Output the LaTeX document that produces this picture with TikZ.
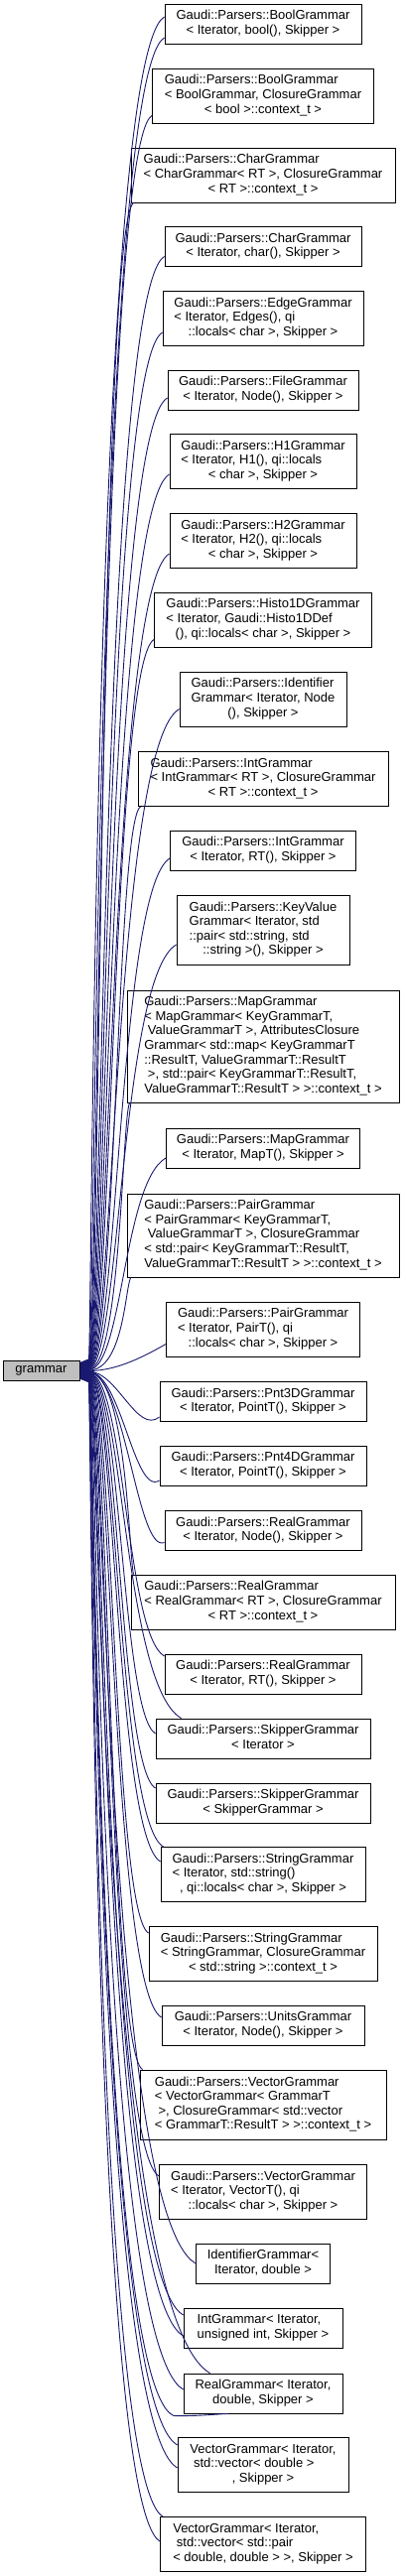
\documentclass[tikz,border=0pt]{standalone}
\usepackage{fontspec}
\setmainfont{Liberation Sans}
\usetikzlibrary{arrows.meta,calc}
\definecolor{edgeblue}{HTML}{191970}
\definecolor{basegray}{HTML}{BFBFBF}
\newcommand{\lbl}[2]{\begin{tabular}{@{}l@{}}#1\\\multicolumn{1}{@{}c@{}}{#2}\end{tabular}}
\begin{document}
\begin{tikzpicture}[x=1pt,y=-1pt,
  box/.style={draw=black, line width=0.9pt, fill=white, inner sep=0pt, font=\fontsize{13}{14.6}\selectfont, align=center},
  inh/.style={draw=edgeblue, line width=0.9pt, {Triangle[open,length=9pt,width=7pt]}-}]
\useasboundingbox (0,0) rectangle (408,2596);

\node[box, fill=basegray, minimum width=77pt, minimum height=20pt] (g) at (41.5,1381) {grammar};

\node[box, minimum width=198pt, minimum height=40pt] (n1) at (265,24) {\lbl{Gaudi::Parsers::BoolGrammar}{< Iterator, bool(), Skipper >}};
\node[box, minimum width=223pt, minimum height=55pt] (n2) at (265,96.5) {\lbl{Gaudi::Parsers::BoolGrammar\\< BoolGrammar, ClosureGrammar}{< bool >::context\_t >}};
\node[box, minimum width=266pt, minimum height=55pt] (n3) at (265,176.5) {\lbl{Gaudi::Parsers::CharGrammar\\< CharGrammar< RT >, ClosureGrammar}{< RT >::context\_t >}};
\node[box, minimum width=198pt, minimum height=40pt] (n4) at (265,248.5) {\lbl{Gaudi::Parsers::CharGrammar}{< Iterator, char(), Skipper >}};
\node[box, minimum width=202pt, minimum height=55pt] (n5) at (265,321) {\lbl{Gaudi::Parsers::EdgeGrammar\\< Iterator, Edges(), qi}{::locals< char >, Skipper >}};
\node[box, minimum width=192pt, minimum height=40pt] (n6) at (265,393) {\lbl{Gaudi::Parsers::FileGrammar}{< Iterator, Node(), Skipper >}};
\node[box, minimum width=188pt, minimum height=55pt] (n7) at (265,465) {\lbl{Gaudi::Parsers::H1Grammar\\< Iterator, H1(), qi::locals}{< char >, Skipper >}};
\node[box, minimum width=188pt, minimum height=55pt] (n8) at (265,545) {\lbl{Gaudi::Parsers::H2Grammar\\< Iterator, H2(), qi::locals}{< char >, Skipper >}};
\node[box, minimum width=219pt, minimum height=55pt] (n9) at (265,624.5) {\lbl{Gaudi::Parsers::Histo1DGrammar\\< Iterator, Gaudi::Histo1DDef}{(), qi::locals< char >, Skipper >}};
\node[box, minimum width=168pt, minimum height=55pt] (n10) at (265,704.5) {\lbl{Gaudi::Parsers::Identifier\\Grammar< Iterator, Node}{(), Skipper >}};
\node[box, minimum width=252pt, minimum height=55pt] (n11) at (265,785) {\lbl{Gaudi::Parsers::IntGrammar\\< IntGrammar< RT >, ClosureGrammar}{< RT >::context\_t >}};
\node[box, minimum width=187pt, minimum height=40pt] (n12) at (265,857) {\lbl{Gaudi::Parsers::IntGrammar}{< Iterator, RT(), Skipper >}};
\node[box, minimum width=174pt, minimum height=70pt] (n13) at (265,937) {\lbl{Gaudi::Parsers::KeyValue\\Grammar< Iterator, std\\::pair< std::string, std}{::string >(), Skipper >}};
\node[box, minimum width=274pt, minimum height=113pt] (n14) at (265,1054.5) {\lbl{Gaudi::Parsers::MapGrammar\\< MapGrammar< KeyGrammarT,\\\ ValueGrammarT >, AttributesClosure\\Grammar< std::map< KeyGrammarT\\::ResultT, ValueGrammarT::ResultT\\\ >, std::pair< KeyGrammarT::ResultT,}{ValueGrammarT::ResultT > >::context\_t >}};
\node[box, minimum width=195pt, minimum height=40pt] (n15) at (265,1157) {\lbl{Gaudi::Parsers::MapGrammar}{< Iterator, MapT(), Skipper >}};
\node[box, minimum width=274pt, minimum height=84pt] (n16) at (265,1245) {\lbl{Gaudi::Parsers::PairGrammar\\< PairGrammar< KeyGrammarT,\\\ ValueGrammarT >, ClosureGrammar\\< std::pair< KeyGrammarT::ResultT,}{ValueGrammarT::ResultT > >::context\_t >}};
\node[box, minimum width=195pt, minimum height=55pt] (n17) at (265,1339.5) {\lbl{Gaudi::Parsers::PairGrammar\\< Iterator, PairT(), qi}{::locals< char >, Skipper >}};
\node[box, minimum width=208pt, minimum height=40pt] (n18) at (265,1412.5) {\lbl{Gaudi::Parsers::Pnt3DGrammar}{< Iterator, PointT(), Skipper >}};
\node[box, minimum width=208pt, minimum height=40pt] (n19) at (265,1477) {\lbl{Gaudi::Parsers::Pnt4DGrammar}{< Iterator, PointT(), Skipper >}};
\node[box, minimum width=198pt, minimum height=40pt] (n20) at (265,1542.5) {\lbl{Gaudi::Parsers::RealGrammar}{< Iterator, Node(), Skipper >}};
\node[box, minimum width=266pt, minimum height=55pt] (n21) at (265,1614.5) {\lbl{Gaudi::Parsers::RealGrammar\\< RealGrammar< RT >, ClosureGrammar}{< RT >::context\_t >}};
\node[box, minimum width=198pt, minimum height=40pt] (n22) at (265,1687) {\lbl{Gaudi::Parsers::RealGrammar}{< Iterator, RT(), Skipper >}};
\node[box, minimum width=216pt, minimum height=40pt] (n23) at (265,1752) {\lbl{Gaudi::Parsers::SkipperGrammar}{< Iterator >}};
\node[box, minimum width=216pt, minimum height=40pt] (n24) at (265,1817) {\lbl{Gaudi::Parsers::SkipperGrammar}{< SkipperGrammar >}};
\node[box, minimum width=206pt, minimum height=55pt] (n25) at (265,1889) {\lbl{Gaudi::Parsers::StringGrammar\\< Iterator, std::string()}{, qi::locals< char >, Skipper >}};
\node[box, minimum width=230pt, minimum height=55pt] (n26) at (265,1969) {\lbl{Gaudi::Parsers::StringGrammar\\< StringGrammar, ClosureGrammar}{< std::string >::context\_t >}};
\node[box, minimum width=204pt, minimum height=40pt] (n27) at (265,2041) {\lbl{Gaudi::Parsers::UnitsGrammar}{< Iterator, Node(), Skipper >}};
\node[box, minimum width=248pt, minimum height=70pt] (n28) at (265,2121) {\lbl{Gaudi::Parsers::VectorGrammar\\< VectorGrammar< GrammarT\\\ >, ClosureGrammar< std::vector}{< GrammarT::ResultT > >::context\_t >}};
\node[box, minimum width=209pt, minimum height=55pt] (n29) at (265,2209) {\lbl{Gaudi::Parsers::VectorGrammar\\< Iterator, VectorT(), qi}{::locals< char >, Skipper >}};
\node[box, minimum width=135pt, minimum height=40pt] (n30) at (265,2281) {\lbl{IdentifierGrammar<}{Iterator, double >}};
\node[box, minimum width=160pt, minimum height=40pt] (n31) at (265,2346) {\lbl{IntGrammar< Iterator,}{unsigned int, Skipper >}};
\node[box, minimum width=160pt, minimum height=40pt] (n32) at (265,2412) {\lbl{RealGrammar< Iterator,}{double, Skipper >}};
\node[box, minimum width=172pt, minimum height=55pt] (n33) at (265,2484) {\lbl{VectorGrammar< Iterator,\\\ std::vector< double >}{, Skipper >}};
\node[box, minimum width=207pt, minimum height=55pt] (n34) at (265,2564) {\lbl{VectorGrammar< Iterator,\\\ std::vector< std::pair}{< double, double > >, Skipper >}};

% edges above
\draw[inh] ($(g.east)+(0,-8)$) .. controls (93,1373) and (93,59.3) .. ($(n1.west)+(0,-7)$);
\draw[inh] ($(g.east)+(0,-7.5)$) .. controls (96,1373.5) and (96,78.6) .. ($(n1.west)+(0,14)$);
\draw[inh] ($(g.east)+(0,-7)$) .. controls (99,1374) and (99,148.4) .. ($(n2.west)+(0,20)$);
\draw[inh] ($(g.east)+(0,-6.5)$) .. controls (101,1374.5) and (101,223.7) .. ($(n3.south west)+(3,0)$);
\draw[inh] ($(g.east)+(0,-6)$) .. controls (103,1375) and (103,295) .. ($(n4.west)+(0,10)$);
\draw[inh] ($(g.east)+(0,-5.5)$) .. controls (105,1375.5) and (105,369.2) .. ($(n5.west)+(0,14)$);
\draw[inh] ($(g.east)+(0,-5)$) .. controls (107,1376) and (107,437) .. ($(n6.west)+(0,8)$);
\draw[inh] ($(g.east)+(0,-4.5)$) .. controls (109,1376.5) and (109,514) .. ($(n7.west)+(0,13)$);
\draw[inh] ($(g.east)+(0,-4)$) .. controls (111,1377) and (111,592.8) .. ($(n8.west)+(0,13)$);
\draw[inh] ($(g.east)+(0,-3.5)$) .. controls (113,1377.5) and (113,669.5) .. ($(n9.west)+(0,20)$);
\draw[inh] ($(g.east)+(0,-3)$) .. controls (115,1378) and (115,752.8) .. ($(n10.west)+(0,10)$);
\draw[inh] ($(g.east)+(0,-2.5)$) .. controls (117,1378.5) and (117,826.5) .. ($(n11.south west)+(3,0)$);
\draw[inh] ($(g.east)+(0,-2)$) .. controls (119,1379) and (119,895.7) .. ($(n12.west)+(0,8)$);
\draw[inh] ($(g.east)+(0,-1.5)$) .. controls (121,1379.5) and (121,985) .. ($(n13.west)+(0,15)$);
\draw[inh] ($(g.east)+(0,-1)$) .. controls (122,1380) and (123,1125) .. ($(n14.south west)+(3,0)$);
\draw[inh] ($(g.east)+(0,-0.5)$) .. controls (123.5,1380.5) and (124,1191.4) .. ($(n15.west)+(0,10)$);
\draw[inh] ($(g.east)+(0,0)$) .. controls (124,1381) and (126,1300) .. ($(n16.south west)+(4,0)$);
\draw[inh] ($(g.east)+(0,0.5)$) .. controls (115,1381.5) and (140,1370) .. ($(n17.west)+(0,15)$);
% edges below
\draw[inh] ($(g.east)+(0,1)$) .. controls (118,1382) and (138,1446) .. ($(n18.west)+(0,15.5)$);
\draw[inh] ($(g.east)+(0,1.3)$) .. controls (122,1382.3) and (135,1508) .. ($(n19.west)+(0,15)$);
\draw[inh] ($(g.east)+(0,1.6)$) .. controls (126,1382.6) and (138,1566) .. ($(n20.west)+(0,12)$);
\draw[inh] ($(g.east)+(0,2)$) .. controls (128,1383) and (130,1572) .. ($(n21.north west)+(3,0)$);
\draw[inh] ($(g.east)+(0,2.3)$) .. controls (126,1383.3) and (126,1645.8) .. ($(n22.west)+(0,-18)$);
\draw[inh] ($(g.east)+(0,2.6)$) .. controls (124,1383.6) and (124,1697.8) .. ($(n23.north west)+(26,0)$);
\draw[inh] ($(g.east)+(0,3)$) .. controls (122,1384) and (122,1726.7) .. ($(n23.west)+(0,-5)$);
\draw[inh] ($(g.east)+(0,3.3)$) .. controls (120,1384.3) and (120,1780.5) .. ($(n24.west)+(0,-15)$);
\draw[inh] ($(g.east)+(0,3.6)$) .. controls (118,1384.6) and (118,1834.7) .. ($(n25.north west)+(3,0)$);
\draw[inh] ($(g.east)+(0,4)$) .. controls (116,1385) and (116,1849.3) .. ($(n25.west)+(0,-13)$);
\draw[inh] ($(g.east)+(0,4.3)$) .. controls (114,1385.3) and (114,1927.1) .. ($(n26.west)+(0,-21)$);
\draw[inh] ($(g.east)+(0,4.6)$) .. controls (112,1385.6) and (112,2003.4) .. ($(n27.west)+(0,-8)$);
\draw[inh] ($(g.east)+(0,5)$) .. controls (110,1386) and (110,2066.3) .. ($(n28.north west)+(3,0)$);
\draw[inh] ($(g.east)+(0,5.3)$) .. controls (108,1386.3) and (108,2162.3) .. ($(n29.west)+(0,-16)$);
\draw[inh] ($(g.east)+(0,5.6)$) .. controls (106,1386.6) and (106,2227.6) .. ($(n30.west)+(0,0)$);
\draw[inh] ($(g.east)+(0,6)$) .. controls (104,1387) and (104,2286) .. ($(n31.west)+(0,-13)$);
\draw[inh] ($(g.east)+(0,6.3)$) .. controls (102,1387.3) and (102,2305.9) .. ($(n31.west)+(0,8)$);
\draw[inh] ($(g.east)+(0,6.6)$) .. controls (100,1387.6) and (100,2327) .. ($(n32.north west)+(27,0)$);
\draw[inh] ($(g.east)+(0,7)$) .. controls (98,1388) and (98,2357.5) .. ($(n32.west)+(0,-4)$);
\draw[inh] ($(g.east)+(0,7.3)$) .. controls (96,1388.3) and (96,2400) .. (175,2434.5) .. controls (200,2435) and (215,2433) .. ($(n32.south west)+(45,0)$);
\draw[inh] ($(g.east)+(0,7.6)$) .. controls (95,1388.6) and (95,2415.3) .. ($(n33.west)+(0,-20)$);
\draw[inh] ($(g.east)+(0,8)$) .. controls (94,1389) and (94,2437.7) .. ($(n33.west)+(0,3)$);
\draw[inh] ($(g.east)+(0,8.3)$) .. controls (93,1389.3) and (93,2495.2) .. ($(n34.north west)+(3,0)$);
\draw[inh] ($(g.east)+(0,8.6)$) .. controls (92,1389.6) and (92,2520.4) .. ($(n34.west)+(0,-3)$);
\end{tikzpicture}
\end{document}
